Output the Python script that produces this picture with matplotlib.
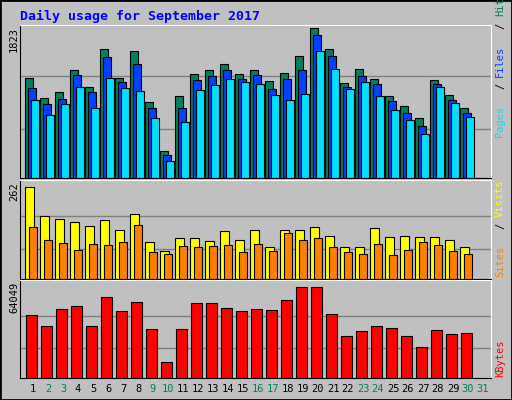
import matplotlib.pyplot as plt
import matplotlib.patches as patches
import numpy as np

days = np.arange(1, 32)
hits = [1217, 969, 1043, 1307, 1105, 1563, 1217, 1538, 920, 326, 994, 1266, 1307, 1390, 1266,
        1316, 1184, 1279, 1489, 1823, 1563, 1155, 1328, 1204, 994, 870, 734, 1192, 1006, 845, 0]
files = [1093, 895, 957, 1254, 1043, 1476, 1167, 1390, 845, 276, 845, 1192, 1241, 1316, 1204,
         1254, 1080, 1204, 1316, 1736, 1489, 1105, 1241, 1142, 932, 796, 635, 1142, 944, 796, 0]
pages = [944, 771, 895, 1105, 845, 1217, 1093, 1056, 734, 202, 685, 1068, 1130, 1204, 1167,
         1142, 1006, 944, 1019, 1538, 1328, 1080, 1167, 994, 821, 709, 536, 1105, 907, 746, 0]
visits = [262, 179, 171, 162, 151, 168, 140, 185, 105, 80, 117, 117, 108, 137, 111,
          140, 91, 140, 140, 148, 122, 91, 91, 145, 120, 122, 120, 120, 111, 91, 0]
sites = [148, 111, 102, 83, 100, 97, 105, 154, 77, 71, 94, 91, 94, 97, 77,
         100, 80, 131, 111, 117, 91, 77, 71, 100, 68, 83, 105, 97, 80, 71, 0]
kbytes = [44413, 36699, 48620, 50724, 36699, 57035, 47218, 53529, 34595, 11454, 34595, 52828,
          52828, 49321, 47218, 48620, 47919, 54931, 64049, 64049, 45114, 29686, 33193, 36699,
          35296, 29686, 21973, 33894, 31089, 31790, 0]
weekend = [2, 3, 9, 10, 16, 17, 23, 24, 30, 31]

BG = '#c0c0c0'
GREEN = '#00805c'
FONT = 'DejaVu Sans Mono'
W, H = 512, 400

fig = plt.figure(figsize=(W / 100, H / 100), dpi=100, facecolor=BG)
fig.patches.append(patches.Rectangle((0, 0), 1, 1, transform=fig.transFigure,
                                     fill=False, edgecolor='black', linewidth=2))

def make_ax(top, bottom):
    ax = fig.add_axes([20 / W, 1 - bottom / H, 471 / W, (bottom - top) / H])
    ax.set_facecolor(BG)
    ax.set_xlim(1 - 5 / 15, 1 - 5 / 15 + 471 / 15)
    ax.set_xticks([])
    ax.set_yticks([])
    for s in ['left', 'bottom']:
        ax.spines[s].set_color('black')
    for s in ['top', 'right']:
        ax.spines[s].set_color('white')
    return ax

def grid(ax, top):
    for f in (0.33, 0.68):
        ax.axhline(top * f, color='#808080', linewidth=1, zorder=0)

bw = 7.5 / 15
ax1 = make_ax(25, 178)
mx = max(hits)
ax1.set_ylim(0, mx * 151 / 148)
grid(ax1, mx)
ax1.bar(days, hits, width=bw, align='edge', color=GREEN, edgecolor='black', linewidth=0.8)
ax1.bar(days + 3 / 15, files, width=bw, align='edge', color='#0040ff', edgecolor='black', linewidth=0.8)
ax1.bar(days + 6 / 15, pages, width=bw, align='edge', color='#00e0ff', edgecolor='black', linewidth=0.8)

ax2 = make_ax(180, 279)
mx = max(visits)
ax2.set_ylim(0, mx * 99 / 92)
grid(ax2, mx)
ax2.bar(days, visits, width=8.5 / 15, align='edge', color='#ffff00', edgecolor='black', linewidth=0.8)
ax2.bar(days + 4 / 15, sites, width=bw, align='edge', color='#ff8000', edgecolor='black', linewidth=0.8)

ax3 = make_ax(280, 378)
mx = max(kbytes)
ax3.set_ylim(0, mx * 98 / 91)
grid(ax3, mx)
ax3.bar(days + 1 / 15, kbytes, width=10.5 / 15, align='edge', color='#ff0000', edgecolor='black', linewidth=0.8)

fig.text(20 / W, 1 - 16 / H, 'Daily usage for September 2017', color='#0000ff',
         fontsize=9.5, fontweight='bold', family=FONT, va='center')

for y, lab in [(25, '1823'), (180, '262'), (280, '64049')]:
    fig.text(14 / W, 1 - (y + 2) / H, lab, rotation=90, fontsize=7.5, family=FONT,
             ha='center', va='top')

for d in days:
    fig.text((25 + 15 * (d - 1) + 8) / W, 1 - 389 / H, str(d), fontsize=7.5, family=FONT,
             ha='center', va='center', color=GREEN if d in weekend else 'black')

renderer = fig.canvas.get_renderer()

def side_label(parts, y_bottom):
    y = y_bottom
    for txt, col in parts:
        t = fig.text(500 / W, 1 - y / H, txt, rotation=90, fontsize=7.5, family=FONT,
                     color=col, ha='center', va='bottom')
        if txt.strip():
            ext = t.get_window_extent(renderer)
            y -= ext.height + 1
        else:
            y -= 4
        if txt == ' / ':
            t.set_text('/')
            t.set_position((500 / W, 1 - (y + 4) / H))
            y -= fig.texts[-1].get_window_extent(renderer).height + 2

side_label([('Pages', '#00e0ff'), (' / ', 'black'), ('Files', '#0040ff'),
            (' / ', 'black'), ('Hits', GREEN)], 137)
side_label([('Sites', '#ff8000'), (' / ', 'black'), ('Visits', '#ffff00')], 277)
side_label([('KBytes', '#ff0000')], 377)

fig.savefig('out.png', dpi=100, facecolor=BG)
